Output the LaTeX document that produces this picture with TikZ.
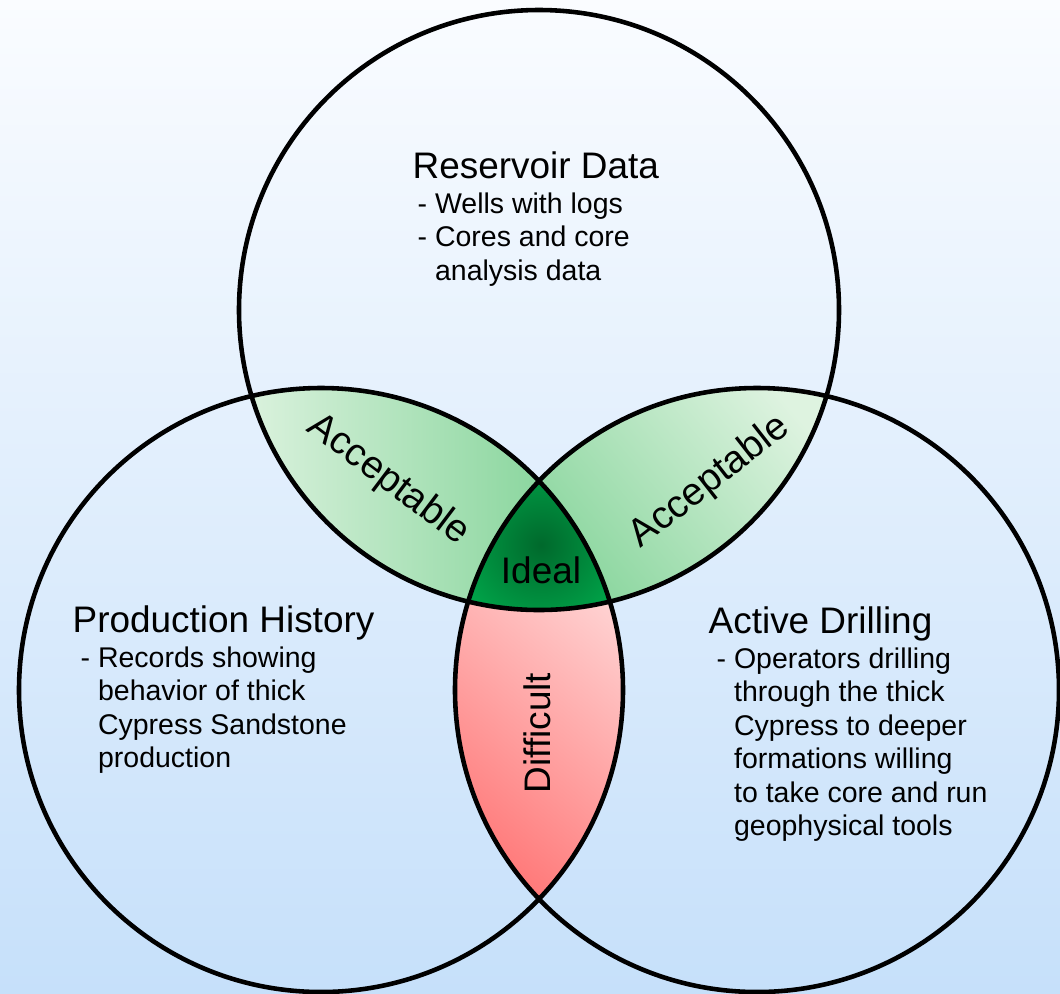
\documentclass[tikz,border=0pt]{standalone}
\usepackage{fontspec}
\setmainfont{Liberation Sans}
\usepackage{tikz}
\usetikzlibrary{positioning}
\definecolor{bgtop}{RGB}{250,252,255}
\definecolor{bgbot}{RGB}{198,224,250}
\definecolor{acclight}{RGB}{222,243,224}
\definecolor{accdark}{RGB}{138,214,158}
\definecolor{idealin}{RGB}{0,105,44}
\definecolor{idealout}{RGB}{0,178,80}
\definecolor{difflight}{RGB}{255,224,224}
\definecolor{diffdark}{RGB}{255,122,122}
\tikzset{
  ring/.style={line width=1.3pt},
  headtext/.style={font=\fontsize{10.5}{12.6}\selectfont,inner sep=0pt,anchor=base west},
  itemtext/.style={font=\fontsize{8.1}{9.53}\selectfont,inner sep=0pt,align=left,anchor=north west},
  zonetext/.style={font=\fontsize{11}{13}\selectfont,inner sep=0pt}
}
\newcommand{\ind}{\hphantom{-\ }}

\begin{document}
\begin{tikzpicture}[x=0.01cm,y=-0.01cm,line cap=round,line join=round]
  % page and background
  \useasboundingbox (0,0) rectangle (1060,993);
  \shade[top color=bgtop,bottom color=bgbot] (0,0) rectangle (1060,993);

  % circle centres
  \coordinate (T) at (539,310);
  \coordinate (L) at (321,690);
  \coordinate (R) at (757,690);

  % difficult lens
  \begin{scope}
    \clip (L) circle[radius=302];
    \clip (R) circle[radius=302];
    \shade[top color=difflight,bottom color=diffdark,shading angle=-40]
      (450,480) rectangle (630,905);
  \end{scope}

  % acceptable lenses
  \begin{scope}
    \clip (T) circle[radius=300];
    \clip (L) circle[radius=302];
    \shade[left color=acclight,right color=accdark] (235,385) rectangle (545,615);
  \end{scope}
  \begin{scope}
    \clip (T) circle[radius=300];
    \clip (R) circle[radius=302];
    \shade[top color=acclight,bottom color=accdark,shading angle=-50]
      (535,385) rectangle (845,615);
  \end{scope}

  % ideal centre
  \begin{scope}
    \clip (T) circle[radius=300];
    \clip (L) circle[radius=302];
    \clip (R) circle[radius=302];
    \shade[inner color=idealin,outer color=idealout] (541,545) circle[radius=110];
  \end{scope}

  % outlines
  \draw[ring] (T) circle[radius=300];
  \draw[ring] (L) circle[radius=302];
  \draw[ring] (R) circle[radius=302];

  % set titles and lists
  \node[headtext] (resT) at (412,178) {Reservoir Data};
  \node[itemtext] (resL) at (417,192)
    {- Wells with logs\\- Cores and core\\\ind analysis data};
  \node[headtext] (prodT) at (72,632) {Production History};
  \node[itemtext] (prodL) at (80,646)
    {- Records showing\\\ind behavior of thick\\\ind Cypress Sandstone\\\ind production};
  \node[headtext] (drillT) at (708,633) {Active Drilling};
  \node[itemtext] (drillL) at (716,647)
    {- Operators drilling\\\ind through the thick\\\ind Cypress to deeper\\\ind formations willing\\\ind to take core and run\\\ind geophysical tools};

  % overlap labels
  \node[zonetext,rotate=-37] (accL) at (388,480) {Acceptable};
  \node[zonetext,rotate=38] (accR) at (710,482) {Acceptable};
  \node[headtext,anchor=center] (ideal) at (541,570) {Ideal};
  \node[headtext,anchor=center,rotate=90] (diff) at (537,733) {Difficult};
\end{tikzpicture}
\end{document}
